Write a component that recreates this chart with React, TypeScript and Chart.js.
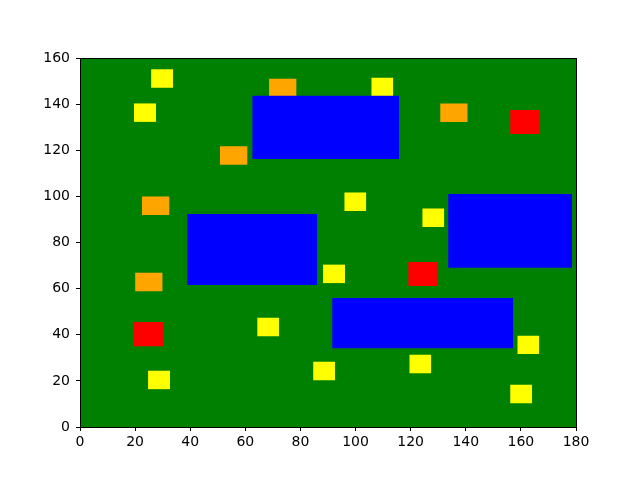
import React, { useEffect, useRef } from "react";
import { Chart, registerables } from "chart.js";

Chart.register(...registerables);

// Axis limits and tick step (data units)
const xRange = [0, 180];
const yRange = [0, 160];
const tickStep = 20;

// Rectangles in data units: [x0, y0, x1, y1]
const yellowRects: number[][] = [
  [25.8, 147.1, 33.8, 155.1],
  [19.6, 132.3, 27.6, 140.3],
  [105.7, 143.4, 113.7, 151.4],
  [95.9, 93.7, 103.9, 101.7],
  [124.2, 86.7, 132.2, 94.7],
  [88.2, 62.4, 96.2, 70.4],
  [64.3, 39.4, 72.3, 47.4],
  [24.7, 16.4, 32.7, 24.4],
  [84.6, 20.3, 92.6, 28.3],
  [119.5, 23.3, 127.5, 31.3],
  [158.7, 31.6, 166.7, 39.6],
  [156.1, 10.3, 164.1, 18.3],
];

const orangeRects: number[][] = [
  [68.6, 143.0, 78.6, 151.0],
  [130.7, 132.3, 140.7, 140.3],
  [50.8, 113.7, 60.8, 121.7],
  [22.5, 91.9, 32.5, 99.9],
  [20.0, 58.9, 30.0, 66.9],
];

const redRects: number[][] = [
  [156.1, 127.1, 167.0, 137.5],
  [119.1, 61.1, 130.0, 71.5],
  [19.2, 35.0, 30.1, 45.5],
];

const blueRects: number[][] = [
  [62.5, 116.2, 115.8, 143.6],
  [38.9, 61.6, 86.1, 92.4],
  [133.6, 69.1, 178.6, 101.0],
  [91.5, 34.2, 157.2, 55.9],
];

const COLORS = {
  bg: "#008000",
  yellow: "#ffff00",
  orange: "#ffa500",
  red: "#ff0000",
  blue: "#0000ff",
};

function rectDataset(r: number[], color: string, order: number) {
  const [x0, y0, x1, y1] = r;
  return {
    data: [
      { x: x0, y: y1 },
      { x: x1, y: y1 },
    ],
    fill: { value: y0 },
    backgroundColor: color,
    borderColor: color,
    borderWidth: 0,
    pointRadius: 0,
    pointHoverRadius: 0,
    tension: 0,
    order,
  };
}

const bgPlugin = {
  id: "axesBg",
  beforeDraw(chart: any) {
    const { ctx, chartArea } = chart;
    ctx.save();
    ctx.fillStyle = COLORS.bg;
    ctx.fillRect(chartArea.left, chartArea.top, chartArea.right - chartArea.left, chartArea.bottom - chartArea.top);
    ctx.restore();
  },
  afterDraw(chart: any) {
    const { ctx, chartArea } = chart;
    ctx.save();
    ctx.strokeStyle = "#000";
    ctx.lineWidth = 1;
    ctx.strokeRect(chartArea.left + 0.5, chartArea.top + 0.5, chartArea.right - chartArea.left, chartArea.bottom - chartArea.top);
    ctx.restore();
  },
};

export default function App() {
  const ref = useRef<HTMLCanvasElement | null>(null);

  useEffect(() => {
    document.body.style.margin = "0";
    const canvas = ref.current;
    if (!canvas) return;
    const datasets = [
      ...blueRects.map((r) => rectDataset(r, COLORS.blue, 0)),
      ...redRects.map((r) => rectDataset(r, COLORS.red, 1)),
      ...orangeRects.map((r) => rectDataset(r, COLORS.orange, 1)),
      ...yellowRects.map((r) => rectDataset(r, COLORS.yellow, 1)),
    ];
    const font = { family: "'DejaVu Sans', sans-serif", size: 14 };
    const chart = new Chart(canvas, {
      type: "line",
      data: { datasets: datasets as any },
      plugins: [bgPlugin],
      options: {
        animation: false,
        responsive: false,
        events: [],
        layout: { padding: { left: 0, top: 58, right: 64, bottom: 0 } },
        plugins: { legend: { display: false }, tooltip: { enabled: false } },
        scales: {
          x: {
            type: "linear",
            min: xRange[0],
            max: xRange[1],
            afterFit(scale: any) {
              scale.height = 53;
            },
            ticks: { stepSize: tickStep, color: "#000", font, padding: 3, maxRotation: 0 },
            grid: { drawOnChartArea: false, drawTicks: true, tickLength: 4, color: "#000", lineWidth: 1 },
            border: { display: false },
          },
          y: {
            type: "linear",
            min: yRange[0],
            max: yRange[1],
            afterFit(scale: any) {
              scale.width = 80;
            },
            ticks: { stepSize: tickStep, color: "#000", font, padding: 6 },
            grid: { drawOnChartArea: false, drawTicks: true, tickLength: 4, color: "#000", lineWidth: 1 },
            border: { display: false },
          },
        },
      },
    });
    return () => chart.destroy();
  }, []);

  return <canvas ref={ref} width={640} height={480} style={{ display: "block" }} />;
}
